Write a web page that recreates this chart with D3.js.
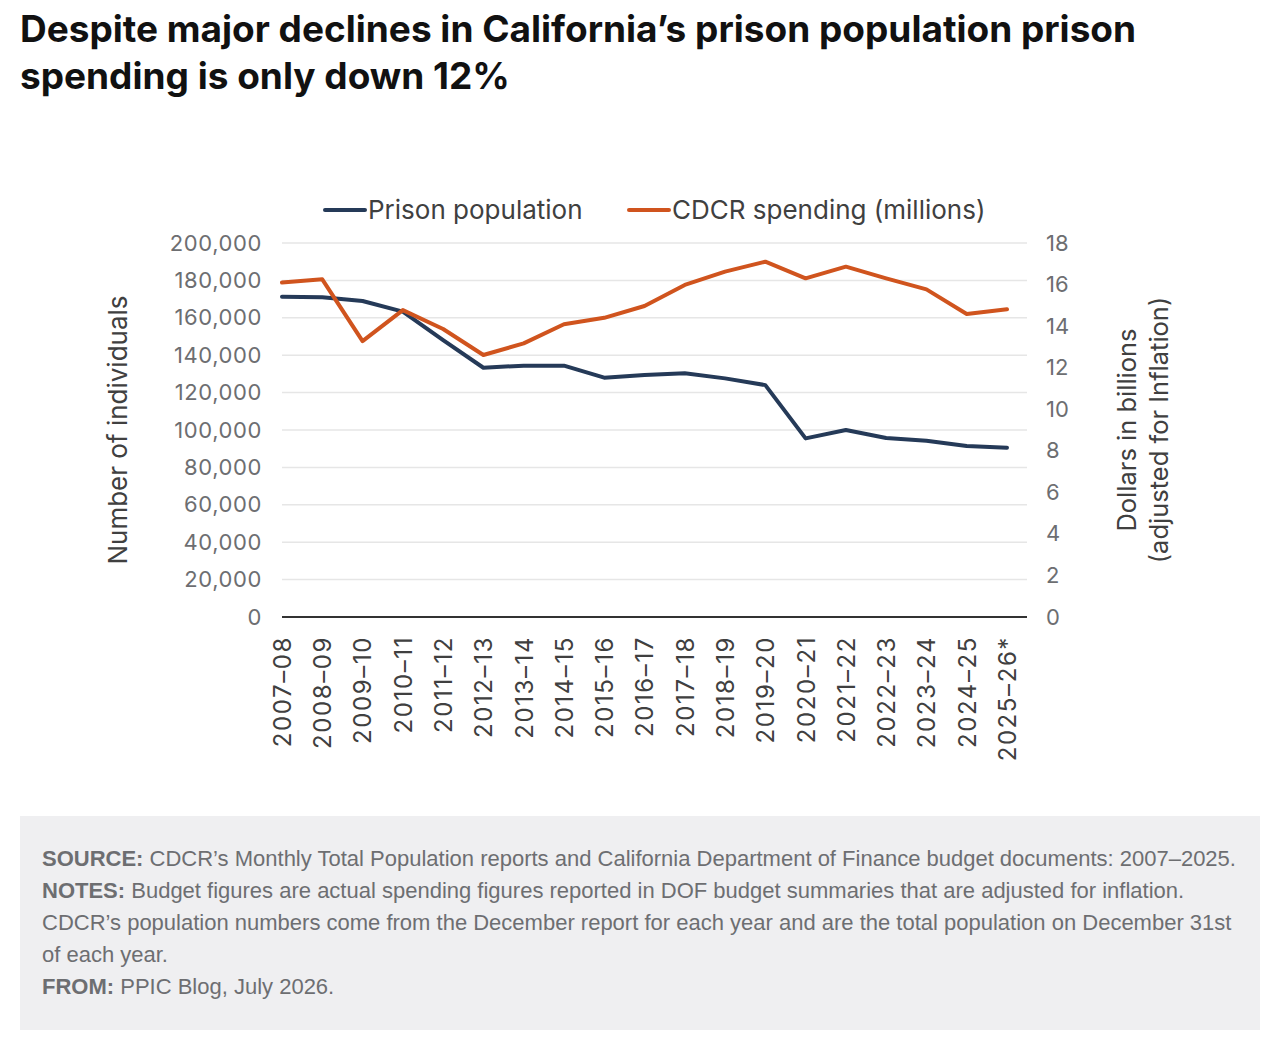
<!DOCTYPE html>
<meta charset="utf-8">
<script src="https://cdn.jsdelivr.net/npm/d3@7"></script>
<style>
  body { margin: 0; background: #fff; }
  svg { display: block; }
</style>
<body>
<script>
// data
var years = ["2007–08", "2008–09", "2009–10", "2010–11", "2011–12", "2012–13", "2013–14",
    "2014–15", "2015–16", "2016–17", "2017–18", "2018–19", "2019–20", "2020–21",
    "2021–22", "2022–23", "2023–24", "2024–25", "2025–26*"];
var population = [171300, 171000, 169000, 163300, 148100, 133300, 134400, 134400, 128000,
    129400, 130300, 127600, 124000, 95500, 100000, 95700, 94300, 91400, 90500];
var spending = [16.1, 16.25, 13.28, 14.77, 13.86, 12.61, 13.17, 14.09, 14.4, 14.97,
    15.98, 16.62, 17.1, 16.3, 16.86, 16.3, 15.77, 14.58, 14.81];
var leftTicks = [0, 20000, 40000, 60000, 80000, 100000, 120000, 140000, 160000, 180000, 200000];
var rightTicks = [0, 2, 4, 6, 8, 10, 12, 14, 16, 18];

var width = 1280, height = 1040;
var navy = "#253a58", orange = "#d0541e";
var font = "Inter, 'Open Sans', sans-serif";

var svg = d3.select("body").append("svg")
    .attr("width", width)
    .attr("height", height);

// title
svg.append("text")
    .attr("x", 20).attr("y", 42)
    .attr("font-family", "Inter, sans-serif").attr("font-weight", 700)
    .attr("font-size", 37).attr("fill", "#111")
    .selectAll("tspan")
    .data(["Despite major declines in California’s prison population prison", "spending is only down 12%"])
    .join("tspan")
    .attr("x", 20)
    .attr("dy", function(d, i) { return i ? 47 : 0; })
    .text(function(d) { return d; });

var plot = {left: 282, right: 1027, top: 243, bottom: 617};

var x = d3.scalePoint().domain(years).range([282, 1007]);
var yL = d3.scaleLinear().domain([0, 200000]).range([plot.bottom, plot.top]);
var yR = d3.scaleLinear().domain([0, 18]).range([plot.bottom, plot.top]);

// gridlines
svg.append("g")
    .selectAll("line")
    .data(leftTicks.slice(1))
    .join("line")
    .attr("x1", plot.left).attr("x2", plot.right)
    .attr("y1", function(d) { return yL(d); })
    .attr("y2", function(d) { return yL(d); })
    .attr("stroke", "#e6e6e6").attr("stroke-width", 1.5);

// baseline
svg.append("line")
    .attr("x1", plot.left).attr("x2", plot.right)
    .attr("y1", plot.bottom).attr("y2", plot.bottom)
    .attr("stroke", "#333").attr("stroke-width", 2);

// left axis
var leftAxis = svg.append("g")
    .attr("transform", "translate(" + 262 + ",0)")
    .call(d3.axisLeft(yL).tickValues(leftTicks).tickSize(0).tickPadding(0).tickFormat(d3.format(",")));
leftAxis.select(".domain").remove();
leftAxis.selectAll("text")
    .attr("font-family", font).attr("font-size", 22).attr("letter-spacing", 0.6)
    .attr("fill", "#6d6e71");

// right axis
var rightAxis = svg.append("g")
    .attr("transform", "translate(" + 1046 + ",0)")
    .call(d3.axisRight(yR).tickValues(rightTicks).tickSize(0).tickPadding(0));
rightAxis.select(".domain").remove();
rightAxis.selectAll("text")
    .attr("font-family", font).attr("font-size", 22).attr("fill", "#6d6e71");

// x axis, labels rotated
var xAxis = svg.append("g")
    .attr("transform", "translate(0," + 636 + ")")
    .call(d3.axisBottom(x).tickSize(0).tickPadding(0));
xAxis.select(".domain").remove();
xAxis.selectAll("text")
    .attr("font-family", font).attr("font-size", 24).attr("letter-spacing", 1.6)
    .attr("fill", "#404040")
    .attr("text-anchor", "end")
    .attr("dy", "0.35em")
    .attr("transform", "rotate(-90)");

// axis titles
svg.append("text")
    .attr("transform", "translate(127,430) rotate(-90)")
    .attr("text-anchor", "middle")
    .attr("font-family", font).attr("font-size", 26).attr("fill", "#404040")
    .text("Number of individuals");

var rt = svg.append("text")
    .attr("transform", "translate(1136,430) rotate(-90)")
    .attr("text-anchor", "middle")
    .attr("font-family", font).attr("font-size", 25.5).attr("fill", "#404040");
rt.append("tspan").attr("x", 0).attr("dy", 0).text("Dollars in billions");
rt.append("tspan").attr("x", 0).attr("dy", 32).text("(adjusted for Inflation)");

// lines
var linePop = d3.line()
    .x(function(d, i) { return x(years[i]); })
    .y(function(d) { return yL(d); });
var lineSpend = d3.line()
    .x(function(d, i) { return x(years[i]); })
    .y(function(d) { return yR(d); });

svg.append("path")
    .datum(population)
    .attr("d", linePop)
    .attr("fill", "none").attr("stroke", navy).attr("stroke-width", 4)
    .attr("stroke-linejoin", "round").attr("stroke-linecap", "round");

svg.append("path")
    .datum(spending)
    .attr("d", lineSpend)
    .attr("fill", "none").attr("stroke", orange).attr("stroke-width", 4)
    .attr("stroke-linejoin", "round").attr("stroke-linecap", "round");

// legend
var legend = [
    {label: "Prison population", color: navy, x: 325},
    {label: "CDCR spending (millions)", color: orange, x: 629}
];
var lg = svg.append("g").selectAll("g").data(legend).join("g")
    .attr("transform", function(d) { return "translate(" + d.x + ",210)"; });
lg.append("line")
    .attr("x1", 0).attr("x2", 40)
    .attr("stroke", function(d) { return d.color; })
    .attr("stroke-width", 4).attr("stroke-linecap", "round");
lg.append("text")
    .attr("x", 43).attr("dy", "0.35em")
    .attr("font-family", font).attr("font-size", 26).attr("fill", "#404040")
    .text(function(d) { return d.label; });

// notes box
svg.append("rect")
    .attr("x", 20).attr("y", 816).attr("width", 1240).attr("height", 214)
    .attr("fill", "#efeff1");

var notes = [
    ["SOURCE:", " CDCR’s Monthly Total Population reports and California Department of Finance budget documents: 2007–2025."],
    ["NOTES:", " Budget figures are actual spending figures reported in DOF budget summaries that are adjusted for inflation."],
    ["", "CDCR’s population numbers come from the December report for each year and are the total population on December 31st"],
    ["", "of each year."],
    ["FROM:", " PPIC Blog, July 2026."]
];
var nt = svg.append("g").selectAll("text").data(notes).join("text")
    .attr("x", 42)
    .attr("y", function(d, i) { return 866 + i * 32; })
    .attr("font-family", "'Liberation Sans', Arial, sans-serif")
    .attr("font-size", 22).attr("fill", "#6d6e71");
nt.append("tspan").attr("font-weight", 700).text(function(d) { return d[0]; });
nt.append("tspan").text(function(d) { return d[1]; });
</script>
</body>
